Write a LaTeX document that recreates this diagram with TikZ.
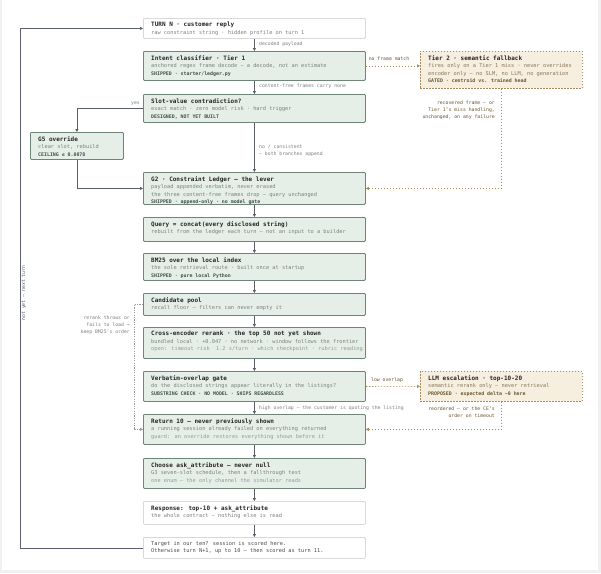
\documentclass[tikz,border=0pt]{standalone}
\usepackage{fontspec}
\setmainfont{DejaVu Sans Mono}
\usetikzlibrary{arrows.meta}
\definecolor{gfill}{HTML}{E5EFE8}
\definecolor{gline}{HTML}{6F8578}
\definecolor{tfill}{HTML}{F6EEDF}
\definecolor{tline}{HTML}{A88B5C}
\definecolor{ttxt}{HTML}{6B5530}
\definecolor{subc}{HTML}{7C817E}
\definecolor{stc}{HTML}{3F5247}
\definecolor{arr}{HTML}{5A5E66}
\definecolor{loopc}{HTML}{5C6070}
\newcommand\ttl[1]{{\fontsize{6}{7.6}\selectfont\bfseries\color{black!85}#1}}
\newcommand\sbt[1]{{\color{subc}#1}}
\newcommand\stt[1]{{\fontsize{4.9}{7.6}\selectfont\bfseries\color{stc}#1}}
\newcommand\stb[1]{{\fontsize{4.9}{7.6}\selectfont\bfseries\color{ttxt}#1}}
\newcommand\bx[7]{%
  \node[#6, anchor=north west, minimum width={#4pt-#2pt}, minimum height={#5pt-#3pt}] (#1) at (#2,#3) {};
  \node[txt] (#1t) at ({#2+8},{#3+4}) {#7};}
\tikzset{
  x=1pt, y=-1pt,
  txt/.style={anchor=north west, inner sep=0pt, align=left, font=\fontsize{5.3}{7.6}\selectfont},
  gbox/.style={draw=gline, fill=gfill, line width=0.8pt, rounded corners=1pt, inner sep=0pt},
  wbox/.style={draw=black!15, fill=white, line width=0.8pt, rounded corners=1pt, inner sep=0pt},
  tbox/.style={draw=tline, fill=tfill, line width=0.7pt, dash pattern=on 1.5pt off 1.5pt, inner sep=0pt},
  flow/.style={draw=arr, line width=0.8pt, -{Triangle[length=3pt,width=3pt]}},
  dflow/.style={draw=tline, line width=0.7pt, dash pattern=on 1.5pt off 1.5pt, -{Triangle[length=3pt,width=3pt]}},
  gflow/.style={draw=black!40, line width=0.6pt, dash pattern=on 1.2pt off 1.2pt, -{Triangle[length=3pt,width=3pt]}},
  lab/.style={inner sep=0pt, font=\fontsize{4.8}{6.8}\selectfont, text=subc},
  tlab/.style={inner sep=0pt, font=\fontsize{4.8}{6.8}\selectfont, text=ttxt},
}
\begin{document}
\begin{tikzpicture}
\useasboundingbox (0,0) rectangle (601,573);
\fill[black!6] (0,0) rectangle (601,573);
\fill[white] (2,0) rectangle (598,570);

\bx{b1}{143}{18}{365}{38}{wbox}{\ttl{TURN N · customer reply}\\\sbt{raw constraint string · hidden profile on turn 1}}
\bx{b2}{143}{51}{365}{80}{gbox}{\ttl{Intent classifier · Tier 1}\\\sbt{anchored regex frame decode — a decode, not an estimate}\\\stt{SHIPPED · starter/ledger.py}}
\bx{b3}{143}{94}{365}{122}{gbox}{\ttl{Slot-value contradiction?}\\\sbt{exact match · zero model risk · hard trigger}\\\stt{DESIGNED, NOT YET BUILT}}
\bx{b5}{30}{132}{123}{159}{gbox}{\ttl{G5 override}\\\sbt{clear slot, rebuild}\\\stt{CEILING ≤ 0.0078}}
\bx{b4}{143}{172}{365}{204}{gbox}{\ttl{G2 · Constraint Ledger — the lever}\\\sbt{payload appended verbatim, never erased}\\\sbt{the three content-free frames drop — query unchanged}\\\stt{SHIPPED · append-only · no model gate}}
\bx{b6}{143}{217}{365}{241}{gbox}{\ttl{Query = concat(every disclosed string)}\\\sbt{rebuilt from the ledger each turn — not an input to a builder}}
\bx{b7}{143}{253}{365}{280}{gbox}{\ttl{BM25 over the local index}\\\sbt{the sole retrieval route · built once at startup}\\\stt{SHIPPED · pure local Python}}
\bx{b8}{143}{293}{365}{315}{gbox}{\ttl{Candidate pool}\\\sbt{recall floor — filters can never empty it}}
\bx{b9}{143}{327}{365}{358}{gbox}{\ttl{Cross-encoder rerank · the top 50 not yet shown}\\\sbt{bundled local · +0.047 · no network · window follows the frontier}\\\sbt{\color{subc!80}open: timeout risk ~1.2 s/turn · which checkpoint · rubric reading}}
\bx{b10}{143}{371}{365}{401}{gbox}{\ttl{Verbatim-overlap gate}\\\sbt{do the disclosed strings appear literally in the listings?}\\\stt{SUBSTRING CHECK · NO MODEL · SHIPS REGARDLESS}}
\bx{b11}{143}{414}{365}{444}{gbox}{\ttl{Return 10 — never previously shown}\\\sbt{a running session already failed on everything returned}\\\sbt{\color{subc!80}guard: an override restores everything shown before it}}
\bx{b12}{143}{458}{365}{488}{gbox}{\ttl{Choose ask\_attribute — never null}\\\sbt{G3 seven-slot schedule, then a fallthrough test}\\\sbt{\color{subc!80}one enum — the only channel the simulator reads}}
\bx{b13}{143}{501}{365}{524}{wbox}{\ttl{Response: top-10 + ask\_attribute}\\\sbt{the whole contract — nothing else is read}}
\bx{b14}{143}{537}{365}{558}{wbox}{\color{black!70}Target in our ten? session is scored here.\\\color{black!70}Otherwise turn N+1, up to 10 — then scored as turn 11.}
\bx{t2}{420}{51}{582}{88}{tbox}{\ttl{Tier 2 · semantic fallback}\\\color{ttxt!80}fires only on a Tier 1 miss · never overrides\\\color{ttxt!80}encoder only — no SLM, no LLM, no generation\\\stb{GATED · centroid vs. trained head}}
\bx{llm}{420}{371}{582}{401}{tbox}{\ttl{LLM escalation · top-10-20}\\\color{ttxt!80}semantic rerank only — never retrieval\\\stb{PROPOSED · expected delta \textasciitilde0 here}}

% main spine
\draw[flow] (b1) -- (b2);
\draw[flow] (b2) -- (b3);
\draw[flow] (b3) -- (b4);
\draw[flow] (b4) -- (b6);
\draw[flow] (b6) -- (b7);
\draw[flow] (b7) -- (b8);
\draw[flow] (b8) -- (b9);
\draw[flow] (b9) -- (b10);
\draw[flow] (b10) -- (b11);
\draw[flow] (b11) -- (b12);
\draw[flow] (b12) -- (b13);
\draw[flow] (b13) -- (b14);
\node[lab, anchor=west] (l1) at (259,44) {decoded payload};
\node[lab, anchor=west] (l2) at (259,86.5) {content-free frames carry none};
\node[lab, anchor=north west, align=left] (l3) at (259,145) {no / consistent\\— both branches append};
\node[lab, anchor=west] (l4) at (259,408.5) {high overlap — the customer is quoting the listing};

% G5 branch
\draw[flow] (b3.west) -| (b5.north);
\node[lab, anchor=east] (l5) at (140,103.5) {yes};
\draw[flow] (b5.south) |- (b4.west);

% Tier 2
\draw[dflow] (b2.east) -- (b2.east -| t2.west);
\node[tlab] (l6) at (389,59) {no frame match};
\draw[dflow] (t2.south) |- (b4.east);
\node[tlab, anchor=north east, align=right] (l7) at (495,101) {recovered frame — or\\Tier 1's miss handling,\\unchanged, on any failure};

% LLM
\draw[dflow] (b10.east) -- (llm.west);
\node[tlab] (l8) at (387,380) {low overlap};
\draw[dflow] (llm.south) |- (b11.east);
\node[tlab, anchor=north east, align=right] (l9) at (495,407) {reordered — or the CE's\\order on timeout};

% rerank skip
\draw[gflow] (b8.west) -- ++(-9,0) |- (b11.west);
\node[lab, anchor=north east, align=right] (l10) at (130,316) {rerank throws or\\fails to load →\\keep BM25's order};

% loop
\draw[flow, draw=loopc] (b14.west) -- ++(-123,0) |- (b1.west);
\node[lab, rotate=90, text=arr] (l11) at (24,293) {not yet — next turn};
\end{tikzpicture}
\end{document}
